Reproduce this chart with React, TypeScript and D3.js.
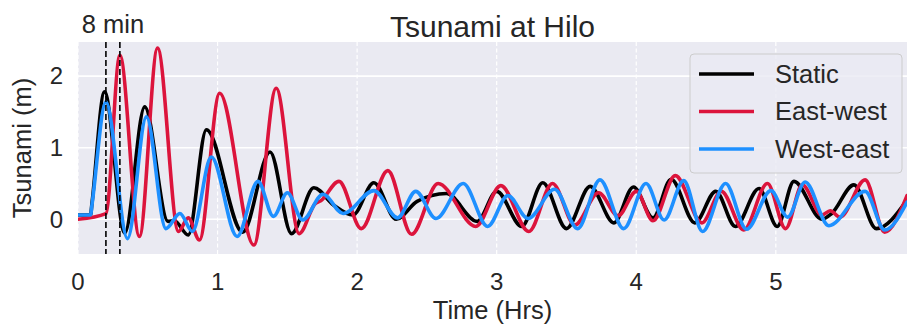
import React from "react";
import * as d3 from "d3";

const W = 907;
const H = 325;

const xTicks = [0, 1, 2, 3, 4, 5];
const yTicks = [0, 1, 2];
const markerTimes = [0.2, 0.3];

// Static (black)
const staticT = [0, 0.09, 0.1, 0.19, 0.335, 0.478, 0.645, 0.69, 0.79, 0.92, 1.18, 1.376, 1.53, 1.69, 1.83, 1.97, 2.12, 2.28, 2.43, 2.64, 2.86, 3.0, 3.18, 3.33, 3.5, 3.67, 3.84, 3.98, 4.12, 4.25, 4.42, 4.57, 4.71, 4.88, 5.01, 5.13, 5.33, 5.4, 5.56, 5.72, 5.94];
const staticV = [0.06, 0.06, 0.22, 1.78, -0.19, 1.57, -0.03, -0.02, -0.22, 1.25, -0.18, 0.94, -0.2, 0.44, 0.2, 0.06, 0.51, 0.0, 0.25, 0.36, -0.03, 0.39, -0.1, 0.51, -0.13, 0.46, -0.05, 0.45, 0.02, 0.56, -0.05, 0.39, -0.1, 0.43, -0.1, 0.53, 0.0, 0.08, 0.48, -0.13, 0.27];

// East-west (red)
const eastWestT = [0, 0.2, 0.3, 0.44, 0.57, 0.72, 0.79, 0.87, 1.015, 1.26, 1.42, 1.585, 1.7, 1.74, 1.87, 2.03, 2.22, 2.39, 2.58, 2.85, 3.03, 3.23, 3.4, 3.56, 3.73, 3.87, 4.0, 4.12, 4.28, 4.47, 4.61, 4.77, 4.94, 5.07, 5.19, 5.33, 5.39, 5.46, 5.64, 5.78, 5.94];
const eastWestV = [0.0, 0.08, 2.29, -0.24, 2.39, -0.17, 0.02, -0.29, 1.76, -0.36, 1.83, -0.2, 0.22, 0.26, 0.53, -0.13, 0.68, -0.21, 0.5, -0.1, 0.47, -0.17, 0.5, -0.08, 0.37, 0.05, 0.39, -0.02, 0.61, -0.05, 0.39, -0.15, 0.5, -0.13, 0.48, 0.06, 0.12, 0.03, 0.55, -0.18, 0.33];

// West-east (blue)
const westEastT = [0, 0.09, 0.1, 0.2, 0.355, 0.49, 0.63, 0.73, 0.82, 0.955, 1.14, 1.29, 1.4, 1.5, 1.61, 1.755, 1.9, 2.12, 2.29, 2.42, 2.565, 2.76, 2.935, 3.08, 3.225, 3.415, 3.58, 3.74, 3.91, 4.07, 4.2, 4.34, 4.475, 4.64, 4.79, 4.965, 5.085, 5.21, 5.38, 5.64, 5.78, 5.94];
const westEastV = [0.06, 0.06, 0.2, 1.64, -0.27, 1.43, -0.13, 0.08, -0.17, 0.87, -0.24, 0.53, 0.04, 0.37, -0.01, 0.35, 0.08, 0.4, 0.02, 0.39, 0.01, 0.5, -0.1, 0.33, 0.01, 0.42, -0.13, 0.55, -0.13, 0.5, -0.01, 0.54, -0.17, 0.5, -0.14, 0.4, 0.03, 0.52, -0.09, 0.39, -0.15, 0.24];

const seriesNames = ["Static", "East-west", "West-east"];
const seriesColors = ["#000000", "#DC143C", "#1E90FF"];

const FONT = "'Liberation Sans', Arial, sans-serif";
const TEXT = "#262626";

export default function App() {
  const left = 78, right = 907, top = 42, bottom = 254;
  const x = d3.scaleLinear().domain([0, 5.94]).range([left, right]);
  const y = d3.scaleLinear().domain([-0.485, 2.476]).range([bottom, top]);

  const series = [
    staticT.map((t, i) => [t, staticV[i]] as [number, number]),
    eastWestT.map((t, i) => [t, eastWestV[i]] as [number, number]),
    westEastT.map((t, i) => [t, westEastV[i]] as [number, number]),
  ];

  const line = d3
    .line<[number, number]>()
    .x((d) => x(d[0]))
    .y((d) => y(d[1]))
    .curve(d3.curveMonotoneX);

  const legX = 690, legY = 54, legW = 212, legH = 119;

  return (
    <svg
      width={W}
      height={H}
      style={{ position: "absolute", left: 0, top: 0, background: "#fff" }}
      fontFamily={FONT}
    >
      <defs>
        <clipPath id="plotclip">
          <rect x={left} y={top} width={right - left} height={bottom - top} />
        </clipPath>
      </defs>
      <rect x={left} y={top} width={right - left} height={bottom - top} fill="#EAEAF2" />
      {xTicks.map((t) => (
        <line key={"gx" + t} x1={x(t)} x2={x(t)} y1={top} y2={bottom} stroke="#fff" strokeWidth={1.2} strokeDasharray="4,2.5" />
      ))}
      {yTicks.map((v) => (
        <line key={"gy" + v} x1={left} x2={right} y1={y(v)} y2={y(v)} stroke="#fff" strokeWidth={1.6} />
      ))}
      <g clipPath="url(#plotclip)">
        {series.map((s, i) => (
          <path key={i} d={line(s) || ""} fill="none" stroke={seriesColors[i]} strokeWidth={3.6} strokeLinejoin="round" strokeLinecap="round" />
        ))}
        {markerTimes.map((t) => (
          <line key={"m" + t} x1={x(t)} x2={x(t)} y1={top} y2={bottom} stroke="#000" strokeWidth={1.6} strokeDasharray="6,3" />
        ))}
      </g>
      {/* tick labels */}
      {xTicks.map((t) => (
        <text key={"tx" + t} x={x(t)} y={290} textAnchor="middle" fontSize={24} fill={TEXT}>
          {t}
        </text>
      ))}
      {yTicks.map((v) => (
        <text key={"ty" + v} x={63} y={y(v)} dy="0.35em" textAnchor="end" fontSize={24} fill={TEXT}>
          {v}
        </text>
      ))}
      <text x={(left + right) / 2} y={319} textAnchor="middle" fontSize={25.5} fill={TEXT}>
        Time (Hrs)
      </text>
      <text transform={`translate(31,${(top + bottom) / 2}) rotate(-90)`} textAnchor="middle" fontSize={25.5} fill={TEXT}>
        Tsunami (m)
      </text>
      <text x={(left + right) / 2} y={37} textAnchor="middle" fontSize={30} fill={TEXT}>
        Tsunami at Hilo
      </text>
      <text x={(x(markerTimes[0]) + x(markerTimes[1])) / 2} y={33} textAnchor="middle" fontSize={25.5} fill={TEXT}>
        8 min
      </text>
      {/* legend */}
      <rect x={legX} y={legY} width={legW} height={legH} rx={4} fill="#EAEAF2" fillOpacity={0.8} stroke="#cccccc" strokeWidth={1} />
      {seriesNames.map((n, i) => (
        <g key={n}>
          <line x1={699} x2={754} y1={74 + i * 37.5} y2={74 + i * 37.5} stroke={seriesColors[i]} strokeWidth={3.6} />
          <text x={775} y={74 + i * 37.5} dy="0.35em" fontSize={25.5} fill={TEXT}>
            {n}
          </text>
        </g>
      ))}
    </svg>
  );
}
